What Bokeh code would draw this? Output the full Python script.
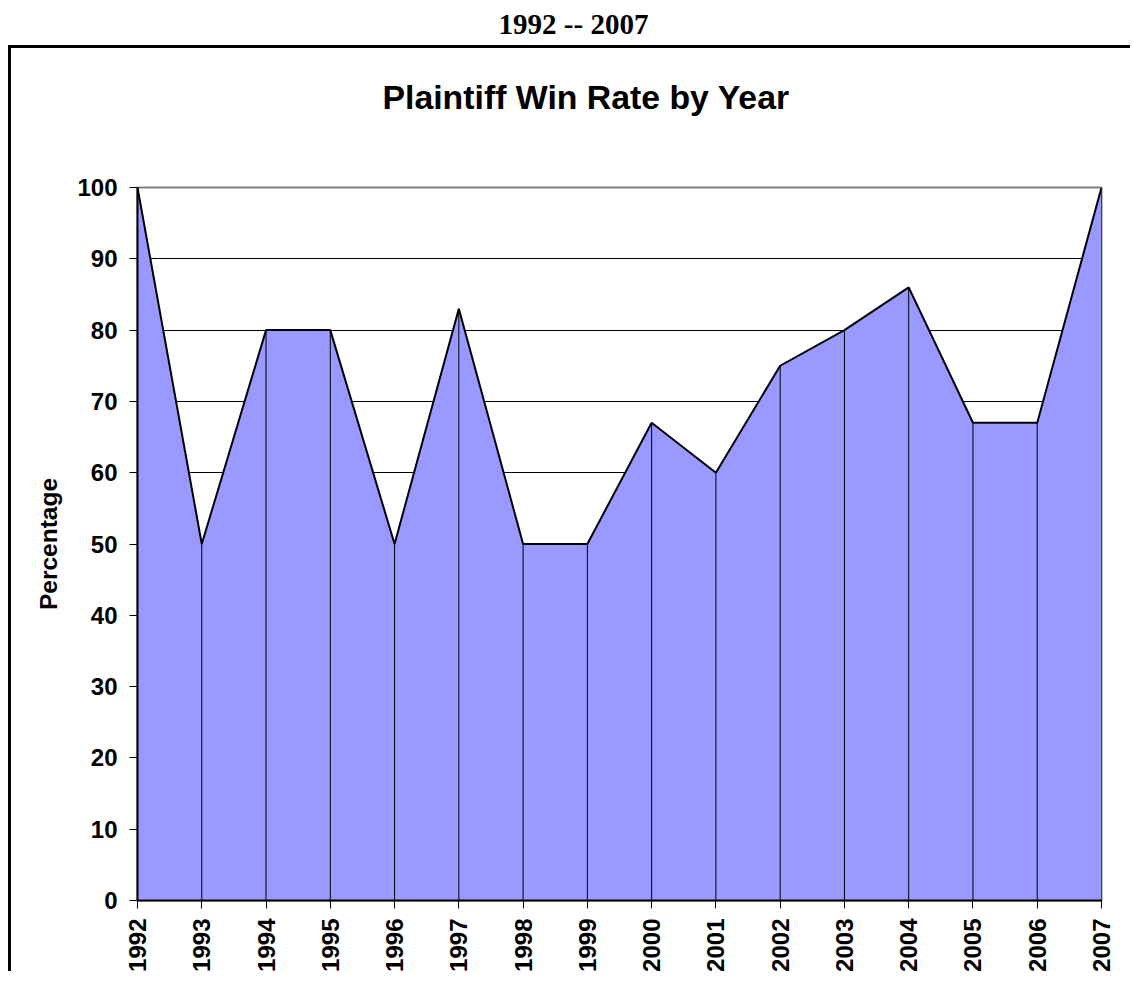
import math
from bokeh.plotting import figure
from bokeh.models import Div, FixedTicker, Title
from bokeh.layouts import column
from bokeh.embed import file_html
from bokeh.resources import INLINE

years = [1992, 1993, 1994, 1995, 1996, 1997, 1998, 1999,
         2000, 2001, 2002, 2003, 2004, 2005, 2006, 2007]
win_rate = [100, 50, 80, 80, 50, 83, 50, 50, 67, 60, 75, 80, 86, 67, 67, 100]
year_labels = [str(y) for y in years]
y_ticks = [0, 10, 20, 30, 40, 50, 60, 70, 80, 90, 100]

FONT = "Liberation Sans"

header = Div(
    text=("<div style=\"font-family:'Liberation Serif'; font-weight:bold; font-size:29px; "
          "text-align:center; line-height:normal; margin:0; width:1125px; box-sizing:border-box; "
          "padding-left:6px;\">1992 -- 2007</div>"),
    width=1125, height=37, margin=0,
)

p = figure(width=1122, height=926, output_backend="svg", toolbar_location=None,
           x_range=(1992, 2007), y_range=(0, 100),
           min_border_left=126, min_border_right=32, min_border_top=139, min_border_bottom=10,
           margin=0)
p.styles = {"border-left": "3px solid black", "border-top": "3px solid black"}

spacer = Title(text=" ", text_font_size="1px", standoff=69)
p.add_layout(spacer, "above")
title = Title(text="Plaintiff Win Rate by Year", align="left", offset=245, standoff=0,
              text_font=FONT, text_font_size="33.8px", text_font_style="bold",
              text_color="black")
p.add_layout(title, "above")

p.varea(x=years, y1=0, y2=win_rate, fill_color="#9999FF", fill_alpha=1.0)
p.segment(x0=years, y0=[0] * len(years), x1=years, y1=win_rate,
          line_color="black", line_width=1)
p.line(x=years, y=win_rate, line_color="black", line_width=2)

p.outline_line_color = "#808080"
p.outline_line_width = 2
p.background_fill_color = "white"
p.border_fill_color = "white"

p.xgrid.grid_line_color = None
p.ygrid.ticker = FixedTicker(ticks=y_ticks[1:-1])
p.ygrid.grid_line_color = "black"
p.ygrid.grid_line_width = 1

p.xaxis.ticker = FixedTicker(ticks=years)
p.xaxis.major_label_overrides = {y: s for y, s in zip(years, year_labels)}
p.xaxis.major_label_orientation = math.pi / 2
p.yaxis.ticker = FixedTicker(ticks=y_ticks)
p.yaxis.axis_label = "Percentage"

for ax in (p.xaxis, p.yaxis):
    ax.axis_line_color = "black"
    ax.axis_line_width = 2
    ax.major_tick_line_color = "black"
    ax.major_tick_line_width = 1
    ax.major_tick_out = 8
    ax.major_tick_in = 0
    ax.minor_tick_line_color = None
    ax.major_label_text_font = FONT
    ax.major_label_text_font_style = "bold"
    ax.major_label_text_font_size = "24px"
    ax.major_label_text_color = "black"
    ax.axis_label_text_font = FONT
    ax.axis_label_text_font_style = "bold"
    ax.axis_label_text_font_size = "24.5px"
    ax.axis_label_text_color = "black"

p.yaxis.major_label_standoff = 12
p.xaxis.major_label_standoff = 10
p.yaxis.axis_label_standoff = 12

layout = column(header, p, spacing=0, margin=(8, 0, 0, 8))
open("out.html", "w").write(file_html(layout, INLINE))
